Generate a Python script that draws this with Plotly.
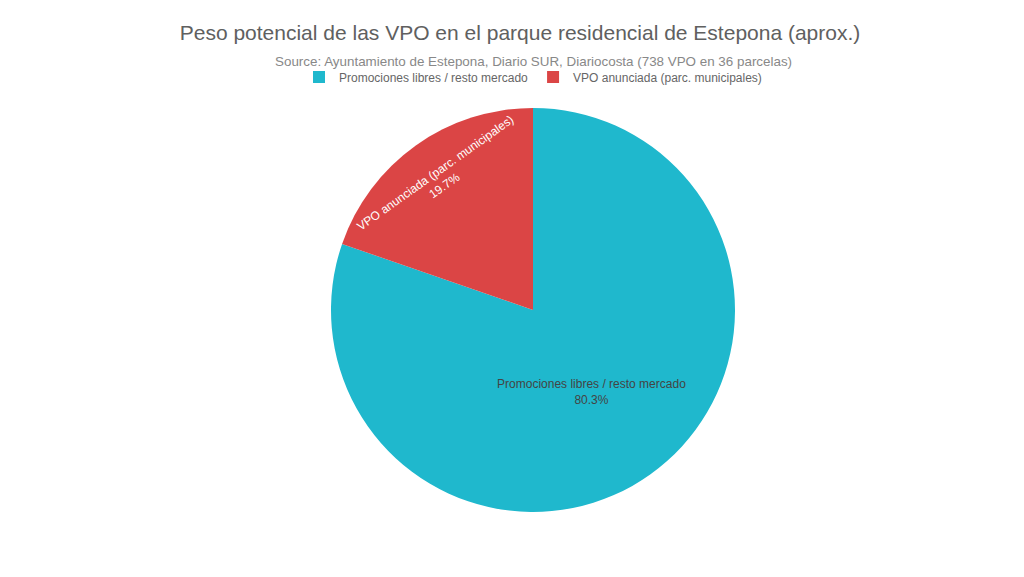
import plotly.graph_objects as go

labels = ["Promociones libres / resto mercado", "VPO anunciada (parc. municipales)"]
values = [80.3, 19.7]
colors = ["#1FB8CD", "#DB4545"]

title_text = "Peso potencial de las VPO en el parque residencial de Estepona (aprox.)"
subtitle_text = "Source: Ayuntamiento de Estepona, Diario SUR, Diariocosta (738 VPO en 36 parcelas)"

fig = go.Figure(go.Pie(
    labels=labels,
    values=values,
    marker=dict(colors=colors),
    textinfo="label+percent",
    textposition="inside",
    insidetextfont=dict(size=12),
    hoverinfo="label+percent",
))

# subtitle sits between the title and the legend
fig.add_annotation(
    text=subtitle_text, showarrow=False,
    xref="paper", yref="paper", x=0.5, y=1.1163, xanchor="center", yanchor="middle",
    font=dict(size=13.4, color="#888"),
)

fig.update_layout(
    title=dict(
        text=title_text,
        x=0.5, xanchor="center", y=1 - 25 / 577, yanchor="middle",
        font=dict(size=21, color="#606060"),
    ),
    legend=dict(orientation="h", x=0.5, xanchor="center", y=1.077, yanchor="middle",
                font=dict(size=12, color="#666")),
    font=dict(family="Liberation Sans, Arial"),
    margin=dict(t=100, b=73, l=46, r=20),
    paper_bgcolor="white",
    width=1024, height=577,
)

fig.write_html("out.html")
